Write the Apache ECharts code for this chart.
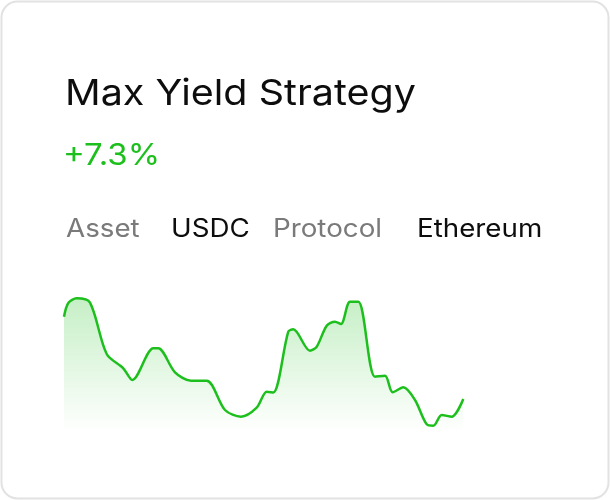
<!DOCTYPE html>
<html>
<head>
<meta charset="utf-8">
<script src="https://cdn.jsdelivr.net/npm/echarts@6/dist/echarts.min.js"></script>
<style>
html,body{margin:0;padding:0;background:#fff;}
#c{width:610px;height:500px;}
</style>
</head>
<body>
<div id="c"></div>
<script>
// Data
var title = "Max Yield Strategy";
var change = "+7.3%";
var infoLabels = ["Asset", "USDC", "Protocol", "Ethereum"];
var days = [0, 4.3, 12.7, 26, 42.7, 59.3, 68.3, 89.3, 94.3, 111, 127, 142.7, 161, 177, 192.7, 202.7, 209.3, 224.3, 229.3, 246, 252.7, 262.7, 271, 277, 286, 294.3, 311, 321, 328.7, 339.3, 351, 362.7, 369.3, 377.7, 387.7, 399.3];
var values = [115.3, 129, 133.7, 129.3, 78, 63.7, 52, 83.7, 83.7, 59.7, 51.3, 51.3, 22, 15.3, 24.3, 40.3, 39.5, 100.3, 102.7, 81.3, 85.3, 106.3, 110.3, 108, 130.3, 130.3, 55.3, 56.3, 39.7, 44.7, 32, 7.7, 6.3, 17, 15.3, 33];

var green = '#1dbf1d';
var seriesData = days.map(function (d, i) { return [d, values[i]]; });

var chart = echarts.init(document.getElementById('c'), null, {renderer: 'canvas'});
var FONT = 'Inter, "Noto Sans", sans-serif';
function txt(t, x, y, size, color, sx) {
  return {type: 'text', x: x, y: y, scaleX: sx, scaleY: 1,
    style: {text: t, x: 0, y: 0, font: '400 ' + size + 'px ' + FONT, fill: color,
      align: 'left', verticalAlign: 'middle'}};
}
chart.setOption({
  animation: false,
  backgroundColor: '#ffffff',
  grid: {left: 64, right: 146, top: 292, bottom: 68},
  xAxis: {type: 'value', min: 0, max: 400, show: false},
  yAxis: {type: 'value', min: 0, max: 140, show: false},
  graphic: [
    {type: 'rect', z: -10, shape: {x: 1.5, y: 1.5, width: 607, height: 497, r: 16},
     style: {fill: '#ffffff', stroke: '#e2e2e2', lineWidth: 2}},
    txt(title, 65, 94, 36, '#0d0d0d', 1.097),
    txt(change, 63, 155.5, 30, green, 1.1),
    txt(infoLabels[0], 66, 229.7, 25, '#7a7a7a', 1.11),
    txt(infoLabels[1], 171, 229.7, 25, '#0d0d0d', 1.11),
    txt(infoLabels[2], 273, 229.7, 25, '#7a7a7a', 1.11),
    txt(infoLabels[3], 417, 229.7, 25, '#0d0d0d', 1.11)
  ],
  series: [{
    type: 'line',
    data: seriesData,
    smooth: 0.3,
    symbol: 'none',
    lineStyle: {color: green, width: 2.5},
    areaStyle: {
      color: new echarts.graphic.LinearGradient(0, 0, 0, 1, [
        {offset: 0, color: 'rgba(40,195,40,0.38)'},
        {offset: 1, color: 'rgba(40,195,40,0)'}
      ])
    }
  }]
});
</script>
</body>
</html>
